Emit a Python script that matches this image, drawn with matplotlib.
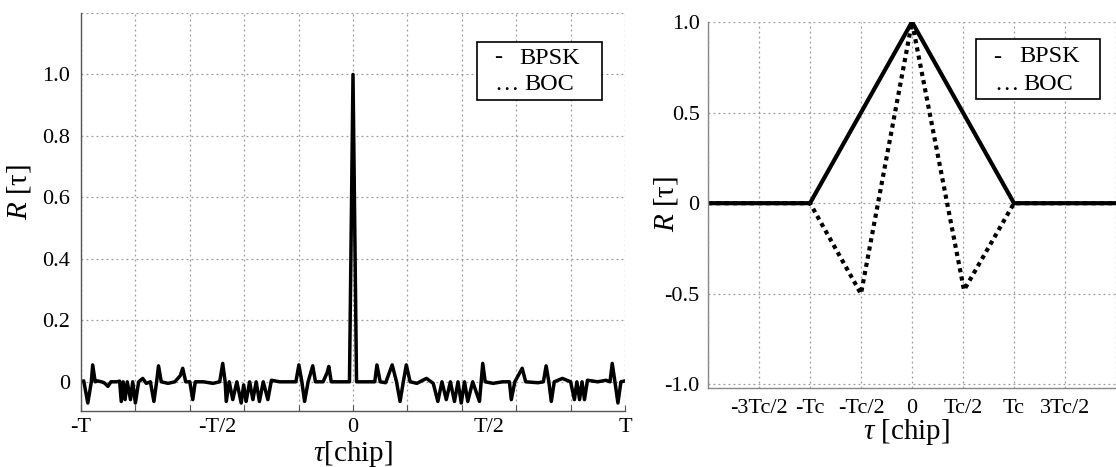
import numpy as np
import matplotlib
matplotlib.use("Agg")
import matplotlib.pyplot as plt
from matplotlib.patches import Rectangle

plt.rcParams['font.family'] = ['Liberation Serif', 'DejaVu Serif']
plt.rcParams['mathtext.fontset'] = 'custom'
plt.rcParams['mathtext.rm'] = 'Liberation Serif'
plt.rcParams['mathtext.it'] = 'Liberation Serif:italic'

# ---------------- data: left panel (BPSK code autocorrelation, tau in units of T)
tau_left = [-1.000, -0.990, -0.975, -0.962, -0.957, -0.948, -0.940, -0.925, -0.915, -0.901,
            -0.890, -0.870, -0.858, -0.852, -0.845, -0.838, -0.830, -0.818, -0.810, -0.800,
            -0.788, -0.773, -0.760, -0.745, -0.732, -0.722, -0.715, -0.705, -0.680, -0.655,
            -0.635, -0.626, -0.615, -0.600, -0.589, -0.580, -0.550, -0.515, -0.490, -0.479,
            -0.470, -0.466, -0.455, -0.442, -0.427, -0.411, -0.402, -0.393, -0.380, -0.368,
            -0.356, -0.344, -0.330, -0.313, -0.300, -0.270, -0.240, -0.210, -0.199, -0.188,
            -0.178, -0.165, -0.148, -0.138, -0.110, -0.095, -0.089, -0.080, -0.040, -0.013,
            0.000, 0.013, 0.040, 0.080, 0.088, 0.100, 0.120, 0.144, 0.160, 0.173,
            0.185, 0.196, 0.210, 0.235, 0.270, 0.295, 0.312, 0.327, 0.343, 0.358,
            0.373, 0.386, 0.398, 0.410, 0.422, 0.440, 0.465, 0.471, 0.477, 0.486,
            0.515, 0.550, 0.575, 0.582, 0.595, 0.622, 0.635, 0.680, 0.700, 0.710,
            0.720, 0.729, 0.740, 0.770, 0.800, 0.814, 0.823, 0.833, 0.842, 0.851,
            0.862, 0.900, 0.930, 0.945, 0.953, 0.963, 0.974, 0.985, 1.000]
r_left = [0.000, 0.003, -0.069, 0.000, 0.055, 0.000, 0.003, 0.000, -0.003, -0.015,
          0.000, 0.000, 0.002, -0.064, 0.000, -0.058, 0.000, -0.058, 0.000, -0.069,
          0.000, 0.011, -0.005, 0.000, -0.064, 0.000, 0.052, 0.000, -0.005, 0.000,
          0.020, 0.044, 0.000, 0.000, -0.058, 0.000, 0.000, -0.005, 0.000, 0.060,
          0.000, -0.064, 0.000, -0.058, 0.000, -0.069, -0.010, -0.064, 0.000, -0.058,
          0.000, -0.064, 0.000, -0.058, 0.005, 0.000, 0.000, 0.000, 0.055, 0.000,
          -0.064, 0.000, 0.052, 0.000, 0.000, 0.030, 0.050, 0.000, 0.000, 0.000,
          1.000, 0.000, 0.000, 0.000, 0.055, 0.000, -0.003, 0.055, 0.000, -0.064,
          0.000, 0.055, 0.000, -0.005, 0.011, -0.005, -0.064, 0.000, -0.058, 0.000,
          -0.064, 0.000, -0.069, 0.000, -0.064, 0.000, -0.064, 0.000, 0.060, 0.000,
          -0.005, 0.000, 0.000, -0.058, 0.000, 0.044, 0.000, -0.003, 0.000, 0.052,
          0.000, -0.064, 0.000, 0.011, 0.000, -0.058, 0.000, -0.058, 0.000, -0.058,
          0.005, 0.000, 0.005, 0.000, 0.060, 0.000, -0.069, 0.000, 0.003]

left_xgrid = [-1.0, -0.8, -0.6, -0.4, -0.2, 0.0, 0.2, 0.4, 0.6, 0.8, 1.0]
left_xtick_pos = [-1.0, -0.5, 0.0, 0.5, 1.0]
left_xtick_lab = ['-T', '-T/2', '0', 'T/2', 'T']
left_ytick_pos = [0.0, 0.2, 0.4, 0.6, 0.8, 1.0, 1.2]
left_ytick_lab = ['0', '0.2', '0.4', '0.6', '0.8', '1.0', '']

# ---------------- data: right panel (tau in units of Tc)
tau_bpsk = [-2.0, -1.0, 0.0, 1.0, 2.0]
r_bpsk = [0.0, 0.0, 1.0, 0.0, 0.0]
tau_boc = [-2.0, -1.0, -0.5, 0.0, 0.51, 1.0, 2.0]
r_boc = [0.0, 0.0, -0.5, 1.0, -0.48, 0.0, 0.0]

right_xgrid = [-2.0, -1.5, -1.0, -0.5, 0.0, 0.5, 1.0, 1.5, 2.0]
right_xtick_lab = ['', '-3Tc/2', '-Tc', '-Tc/2', '0', 'Tc/2', 'Tc', '3Tc/2', '']
right_ytick_pos = [-1.0, -0.5, 0.0, 0.5, 1.0]
right_ytick_lab = ['-1.0', '-0.5', '0', '0.5', '1.0']

legend_marks = ['-', '\u2026']
legend_names = ['BPSK', 'BOC']

W, H = 1116, 467
fig = plt.figure(figsize=(W / 100, H / 100), dpi=100)

grid_kw = dict(color='#9a9a9a', linestyle=(0, (1.5, 2.5)), linewidth=0.9)
TICK_FS = 16
LAB_FS = 21
LEG_FS = 17.5


def fx(px):
    return px / W


def fy(py):
    return 1 - py / H


def draw_legend(x0, y0, x1, y1, mark_x, name_x, rows_y):
    fig.add_artist(Rectangle((fx(x0), fy(y1)), fx(x1) - fx(x0), fy(y0) - fy(y1),
                             transform=fig.transFigure, facecolor='white',
                             edgecolor='black', linewidth=1.2, zorder=5))
    for m, n, mx, nx, ry in zip(legend_marks, legend_names, mark_x, name_x, rows_y):
        fig.text(fx(mx), fy(ry), m, fontsize=LEG_FS, ha='left', va='center', zorder=6)
        fig.text(fx(nx), fy(ry), n, fontsize=LEG_FS, ha='left', va='center', zorder=6)


# ---------------- left panel
axL = fig.add_axes([81 / W, (H - 411) / H, 544 / W, 398 / H])
axL.plot(tau_left, r_left, color='black', linewidth=2.5, solid_joinstyle='round')
axL.set_xlim(-1.0, 1.0)
axL.set_ylim(-0.095, 1.195)
axL.xaxis.remove_overlapping_locs = False
axL.set_xticks(left_xgrid)
axL.set_xticklabels([''] * len(left_xgrid))
axL.set_xticks(left_xtick_pos, minor=True)
axL.set_xticklabels(left_xtick_lab, minor=True, fontsize=TICK_FS)
axL.tick_params(axis='x', which='major', direction='in', length=4, width=0.8, color='#555555')
axL.tick_params(axis='x', which='minor', length=0, pad=5)
axL.set_yticks(left_ytick_pos)
axL.set_yticklabels(left_ytick_lab, fontsize=TICK_FS)
axL.tick_params(axis='y', length=0, pad=8)
axL.grid(True, which='major', **grid_kw)
for s in ['top', 'right']:
    axL.spines[s].set_visible(False)
for s in ['left', 'bottom']:
    axL.spines[s].set_color('#555555')
    axL.spines[s].set_linewidth(1.0)
axL.set_xlabel(r'$\tau$[chip]', fontsize=LAB_FS)
axL.xaxis.set_label_coords(0.5, -(439 - 411) / 398)
axL.set_ylabel('$R$ [\u03c4]', fontsize=LAB_FS)
axL.yaxis.set_label_coords((33 - 81) / 544, (411 - 192) / 398)

draw_legend(477, 42, 602, 100, [494, 494], [519, 524], [58, 85])

# ---------------- right panel
axR = fig.add_axes([708 / W, (H - 388) / H, 408 / W, 366 / H])
axR.plot(tau_bpsk, r_bpsk, color='black', linewidth=3.0, solid_joinstyle='miter')
axR.plot(tau_boc, r_boc, color='black', linewidth=3.0, linestyle=(0, (1, 1)))
axR.set_xlim(-2.0, 2.0)
axR.set_ylim(-1.02, 1.0)
axR.set_xticks(right_xgrid)
axR.set_xticklabels(right_xtick_lab, fontsize=TICK_FS)
axR.tick_params(axis='x', length=0, pad=8)
axR.set_yticks(right_ytick_pos)
axR.set_yticklabels(right_ytick_lab, fontsize=TICK_FS)
axR.tick_params(axis='y', length=0, pad=6)
axR.grid(True, **grid_kw)
for s in ['top', 'right']:
    axR.spines[s].set_visible(False)
for s in ['left', 'bottom']:
    axR.spines[s].set_color('#888888')
    axR.spines[s].set_linewidth(1.0)
axR.set_xlabel(r'$\tau$ [chip]', fontsize=LAB_FS)
axR.xaxis.set_label_coords((907 - 708) / 408, -(417 - 388) / 366)
axR.set_ylabel('$R$ [\u03c4]', fontsize=LAB_FS)
axR.yaxis.set_label_coords((680 - 708) / 408, (388 - 204) / 366)

draw_legend(976, 39, 1100, 99, [993, 994], [1019, 1023], [57, 84])

fig.savefig('out.png', dpi=100)
